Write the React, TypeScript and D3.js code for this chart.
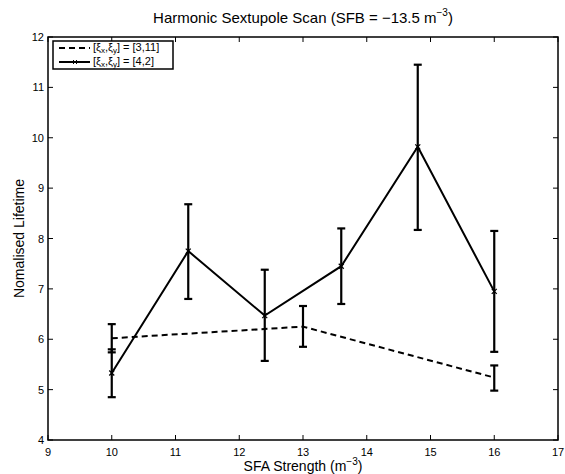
import React from "react";
import * as d3 from "d3";

const xTicks = [9, 10, 11, 12, 13, 14, 15, 16, 17];
const yTicks = [4, 5, 6, 7, 8, 9, 10, 11, 12];

const dashX = [10, 13, 16];
const dashY = [6.02, 6.25, 5.24];
const dashLow = [5.74, 5.85, 4.98];
const dashHigh = [5.8, 6.66, 5.48];

const solidX = [10, 11.2, 12.4, 13.6, 14.8, 16];
const solidY = [5.33, 7.75, 6.47, 7.45, 9.82, 6.95];
const solidLow = [4.85, 6.8, 5.57, 6.7, 8.17, 5.75];
const solidHigh = [6.3, 8.68, 7.38, 8.2, 11.45, 8.15];

const W = 565, H = 474;
const L = 48, R = 558, T = 37, B = 440;

export default function App() {
  const x = d3.scaleLinear().domain([9, 17]).range([L, R]);
  const y = d3.scaleLinear().domain([4, 12]).range([B, T]);
  const line = d3.line<number>().x((d) => x(d[0])).y((d) => y(d[1]));
  const dashPath = line(dashX.map((v, i) => [v, dashY[i]] as any) as any) as string;
  const solidPath = line(solidX.map((v, i) => [v, solidY[i]] as any) as any) as string;
  const font = "Liberation Sans, Arial, Helvetica, sans-serif";
  const cap = 4;

  const errBars = (xs: number[], lo: number[], hi: number[], key: string) =>
    xs.map((v, i) => (
      <g key={key + i} stroke="#000" strokeWidth={2.2} fill="none">
        <line x1={x(v)} x2={x(v)} y1={y(lo[i])} y2={y(hi[i])} />
        <line x1={x(v) - cap} x2={x(v) + cap} y1={y(lo[i])} y2={y(lo[i])} />
        <line x1={x(v) - cap} x2={x(v) + cap} y1={y(hi[i])} y2={y(hi[i])} />
      </g>
    ));

  return (
    <svg width={W} height={H} style={{ position: "absolute", left: 0, top: 0, background: "#fff" }} fontFamily={font}>
      <rect x={0} y={0} width={W} height={H} fill="#fff" />
      {xTicks.map((t) => (
        <g key={"xt" + t} stroke="#000" strokeWidth={1}>
          <line x1={x(t)} x2={x(t)} y1={B} y2={B - 5} />
          <line x1={x(t)} x2={x(t)} y1={T} y2={T + 5} />
        </g>
      ))}
      {yTicks.map((t) => (
        <g key={"yt" + t} stroke="#000" strokeWidth={1}>
          <line x1={L} x2={L + 5} y1={y(t)} y2={y(t)} />
          <line x1={R} x2={R - 5} y1={y(t)} y2={y(t)} />
        </g>
      ))}
      {xTicks.map((t) => (
        <text key={"xl" + t} x={x(t)} y={B + 16} fontSize={11} textAnchor="middle">{t}</text>
      ))}
      {yTicks.map((t) => (
        <text key={"yl" + t} x={L - 4} y={y(t) + 4} fontSize={11} textAnchor="end">{t}</text>
      ))}
      <path d={dashPath} fill="none" stroke="#000" strokeWidth={2} strokeDasharray="6,4" />
      <path d={solidPath} fill="none" stroke="#000" strokeWidth={2} />
      {errBars(dashX, dashLow, dashHigh, "d")}
      {errBars(solidX, solidLow, solidHigh, "s")}
      {solidX.map((v, i) => (
        <g key={"m" + i} stroke="#000" strokeWidth={1.2}>
          <line x1={x(v) - 2.5} x2={x(v) + 2.5} y1={y(solidY[i]) - 2.5} y2={y(solidY[i]) + 2.5} />
          <line x1={x(v) - 2.5} x2={x(v) + 2.5} y1={y(solidY[i]) + 2.5} y2={y(solidY[i]) - 2.5} />
        </g>
      ))}
      <rect x={L} y={T} width={R - L} height={B - T} fill="none" stroke="#000" strokeWidth={1.5} />
      <rect x={53} y={41} width={120} height={28} fill="#fff" stroke="#000" strokeWidth={1.5} />
      <line x1={59} x2={90} y1={48} y2={48} stroke="#000" strokeWidth={2} strokeDasharray="6,4" />
      <line x1={59} x2={90} y1={62} y2={62} stroke="#000" strokeWidth={2} />
      <g stroke="#000" strokeWidth={1}>
        <line x1={73} x2={77} y1={60} y2={64} />
        <line x1={73} x2={77} y1={64} y2={60} />
      </g>
      <text x={93} y={51} fontSize={11}>
        [ξ<tspan fontSize={8} dy={2}>x</tspan><tspan dy={-2}>,ξ</tspan><tspan fontSize={8} dy={2}>y</tspan><tspan dy={-2}>] = [3,11]</tspan>
      </text>
      <text x={93} y={65} fontSize={11}>
        [ξ<tspan fontSize={8} dy={2}>x</tspan><tspan dy={-2}>,ξ</tspan><tspan fontSize={8} dy={2}>y</tspan><tspan dy={-2}>] = [4,2]</tspan>
      </text>
      <text x={(L + R) / 2} y={23} fontSize={15} textAnchor="middle">
        Harmonic Sextupole Scan (SFB = −13.5 m<tspan fontSize={10} dy={-7}>−3</tspan><tspan dy={7}>)</tspan>
      </text>
      <text x={(L + R) / 2} y={471} fontSize={14} textAnchor="middle">
        SFA Strength (m<tspan fontSize={10} dy={-6}>−3</tspan><tspan dy={6}>)</tspan>
      </text>
      <text transform={`translate(24,${(T + B) / 2}) rotate(-90)`} fontSize={14} textAnchor="middle">Nomalised Lifetime</text>
    </svg>
  );
}
